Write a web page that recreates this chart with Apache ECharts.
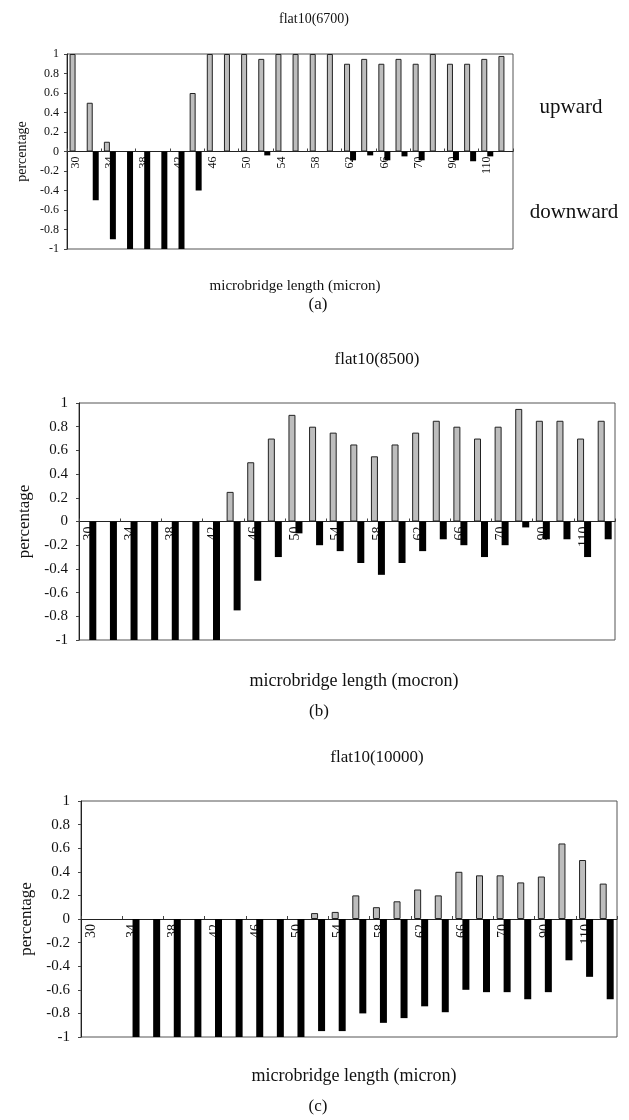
<!DOCTYPE html>
<html>
<head>
<meta charset="utf-8">
<script src="https://cdn.jsdelivr.net/npm/echarts@6/dist/echarts.min.js"></script>
<style>
  html, body { margin: 0; padding: 0; background: #fff; }
  #chart { width: 629px; height: 1120px; }
</style>
</head>
<body>
<div id="chart"></div>
<script>
// microbridge lengths (micron)
var lengths = ["30", "32", "34", "36", "38", "40", "42", "44", "46", "48", "50", "52", "54",
    "56", "58", "60", "62", "64", "66", "68", "70", "80", "90", "100", "110", "120"];

// flat10(6700)
var upA = [1, 0.5, 0.1, 0, 0, 0, 0, 0.6, 1, 1, 1, 0.95, 1, 1, 1, 1, 0.9, 0.95, 0.9, 0.95, 0.9, 1, 0.9, 0.9, 0.95, 0.98];
var downA = [0, -0.5, -0.9, -1, -1, -1, -1, -0.4, 0, 0, 0, -0.04, 0, 0, 0, 0, -0.09, -0.04, -0.09, -0.05, -0.09, 0, -0.09, -0.1, -0.05, 0];

// flat10(8500)
var upB = [0, 0, 0, 0, 0, 0, 0, 0.25, 0.5, 0.7, 0.9, 0.8, 0.75, 0.65, 0.55, 0.65, 0.75, 0.85, 0.8, 0.7, 0.8, 0.95, 0.85, 0.85, 0.7, 0.85];
var downB = [-1, -1, -1, -1, -1, -1, -1, -0.75, -0.5, -0.3, -0.1, -0.2, -0.25, -0.35, -0.45, -0.35, -0.25, -0.15, -0.2, -0.3, -0.2, -0.05, -0.15, -0.15, -0.3, -0.15];

// flat10(10000)
var upC = [0, 0, 0, 0, 0, 0, 0, 0, 0, 0, 0, 0.05, 0.06, 0.2, 0.1, 0.15, 0.25, 0.2, 0.4, 0.37, 0.37, 0.31, 0.36, 0.64, 0.5, 0.3];
var downC = [0, 0, -1, -1, -1, -1, -1, -1, -1, -1, -1, -0.95, -0.95, -0.8, -0.88, -0.84, -0.74, -0.79, -0.6, -0.62, -0.62, -0.68, -0.62, -0.35, -0.49, -0.68];

var FONT = "Liberation Serif";

function txt(text, x, y, size) {
    return {
        text: text,
        left: x,
        top: y,
        textAlign: "center",
        textVerticalAlign: "middle",
        textStyle: { fontFamily: FONT, fontSize: size, fontWeight: "normal", color: "#111" }
    };
}

// x axis sits on the zero line: shift it up by half the plot height
function xAx(idx, size, half) {
    return {
        type: "category",
        gridIndex: idx,
        data: lengths,
        position: "bottom",
        offset: -half,
        axisLine: { onZero: false, lineStyle: { color: "#222", width: 1 } },
        axisTick: { show: true, inside: true, length: 3, lineStyle: { color: "#444" } },
        axisLabel: { interval: 1, rotate: 90, margin: 5, fontFamily: FONT, fontSize: size, color: "#111" },
        splitLine: { show: false }
    };
}

function yAx(idx, size, gap, margin) {
    return {
        type: "value",
        gridIndex: idx,
        min: -1,
        max: 1,
        interval: 0.2,
        name: "percentage",
        nameLocation: "middle",
        nameGap: gap,
        nameTextStyle: { fontFamily: FONT, fontSize: size + 2, color: "#111" },
        axisLine: { show: true, lineStyle: { color: "#222" } },
        axisTick: { show: true, length: 3, lineStyle: { color: "#444" } },
        axisLabel: { margin: margin, fontFamily: FONT, fontSize: size, color: "#111" },
        splitLine: { show: false }
    };
}

function noZero(arr) {
    return arr.map(function (v) { return v === 0 ? "-" : v; });
}

function bars(idx, up, down, w) {
    return [
        {
            type: "bar", xAxisIndex: idx, yAxisIndex: idx, data: noZero(up), barWidth: w, barGap: "0%",
            itemStyle: { color: "#bdbdbd", borderColor: "#222", borderWidth: 1 }
        },
        {
            type: "bar", xAxisIndex: idx, yAxisIndex: idx, data: noZero(down), barWidth: w, barGap: "0%",
            itemStyle: { color: "#000" }
        }
    ];
}

var chart = echarts.init(document.getElementById("chart"));
var option = {
    backgroundColor: "#fff",
    animation: false,
    title: [
        txt("flat10(6700)", 309, 14, 14),
        txt("microbridge length (micron)", 290, 281, 15),
        txt("(a)", 313, 300, 17),
        txt("upward", 566, 102, 21),
        txt("downward", 569, 207, 21),
        txt("flat10(8500)", 372, 355, 17),
        txt("microbridge length (mocron)", 349, 676, 18),
        txt("(b)", 314, 707, 17),
        txt("flat10(10000)", 372, 753, 17),
        txt("microbridge length (micron)", 349, 1071, 18),
        txt("(c)", 313, 1102, 17)
    ],
    grid: [
        { left: 67, top: 54, width: 446, height: 195, show: true, borderColor: "#555", borderWidth: 1, backgroundColor: "#fff" },
        { left: 79, top: 403, width: 536, height: 237, show: true, borderColor: "#555", borderWidth: 1, backgroundColor: "#fff" },
        { left: 81, top: 801, width: 536, height: 236, show: true, borderColor: "#555", borderWidth: 1, backgroundColor: "#fff" }
    ],
    xAxis: [xAx(0, 12, 97.5), xAx(1, 14, 118.5), xAx(2, 14, 118)],
    yAxis: [yAx(0, 12, 30, 8), yAx(1, 15, 36, 11), yAx(2, 15, 37, 11)],
    series: [].concat(bars(0, upA, downA, 6), bars(1, upB, downB, 7), bars(2, upC, downC, 7))
};
chart.setOption(option);
</script>
</body>
</html>
